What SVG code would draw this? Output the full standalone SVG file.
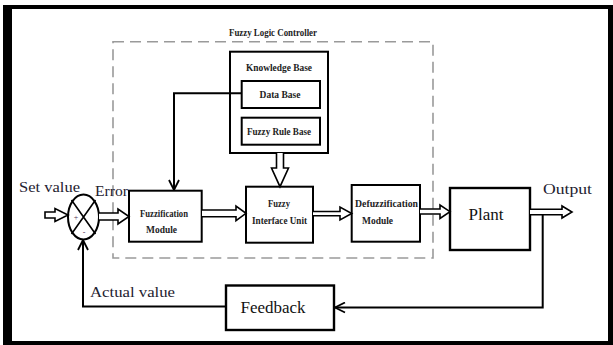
<svg xmlns="http://www.w3.org/2000/svg" width="613" height="345" viewBox="0 0 613 345">
  <defs>
    <style>
      .box { fill: #fff; stroke: #000; stroke-width: 2; }
      .thick { fill: #fff; stroke: #000; stroke-width: 2.4; }
      .hollow { fill: #fff; stroke: #000; stroke-width: 1.6; stroke-linejoin: miter; }
      .wire { fill: none; stroke: #000; stroke-width: 2; }
      .dash { fill: none; stroke: #9a9a9a; stroke-width: 1.6; stroke-dasharray: 11 6; }
      .small { font-family: "Liberation Serif", "Times New Roman", serif; font-size: 9.5px; font-weight: bold; fill: #222; text-anchor: middle; }
      .label { font-family: "Liberation Serif", "Times New Roman", serif; font-size: 15px; fill: #1e2230; }
      .big { font-family: "Liberation Serif", "Times New Roman", serif; font-size: 16px; fill: #111; text-anchor: middle; }
    </style>
    <marker id="chevron" viewBox="0 0 12 12" refX="11" refY="6" markerWidth="12" markerHeight="12" markerUnits="userSpaceOnUse" orient="auto">
      <path d="M1,1 L11,6 L1,11" fill="none" stroke="#000" stroke-width="1.8"/>
    </marker>
  </defs>

  <!-- page frame -->
  <path d="M3,5 H613 V345 H3 Z M12,9 V341 H608 V9 Z" fill="#000" fill-rule="evenodd"/>

  <!-- controller boundary -->
  <g id="flc">
    <rect class="dash" x="113" y="41.7" width="320" height="216.3"/>
    <text class="small" x="273" y="36" textLength="88" lengthAdjust="spacingAndGlyphs">Fuzzy Logic Controller</text>
  </g>

  <g id="knowledge-base">
    <rect class="box" x="230" y="51.7" width="98" height="101.3"/>
    <text class="small" x="279" y="71" textLength="66" lengthAdjust="spacingAndGlyphs">Knowledge Base</text>
  </g>
  <g id="data-base">
    <rect class="box" x="241.7" y="81" width="78.3" height="27"/>
    <text class="small" x="280" y="98" textLength="41" lengthAdjust="spacingAndGlyphs">Data Base</text>
  </g>
  <g id="rule-base">
    <rect class="box" x="241.7" y="117.7" width="78.3" height="27"/>
    <text class="small" x="279" y="134.5" textLength="64" lengthAdjust="spacingAndGlyphs">Fuzzy Rule Base</text>
  </g>

  <g id="summing">
    <ellipse cx="83.5" cy="217" rx="15.5" ry="22.5" fill="#fff" stroke="#000" stroke-width="2"/>
    <path d="M71.5,200 L95.5,234 M95.5,200 L71.5,234" stroke="#000" stroke-width="1.6"/>
    <text x="76" y="220" font-family="Liberation Serif, serif" font-size="8" fill="#553355" text-anchor="middle">+</text>
    <text x="84" y="235" font-family="Liberation Serif, serif" font-size="8" fill="#553355" text-anchor="middle">-</text>
  </g>

  <g id="fuzzification">
    <rect class="box" x="129" y="190.7" width="72.7" height="51"/>
    <text class="small" x="164" y="216.5" textLength="48" lengthAdjust="spacingAndGlyphs">Fuzzification</text>
    <text class="small" x="161.5" y="232.5" textLength="31" lengthAdjust="spacingAndGlyphs">Module</text>
  </g>

  <g id="interface">
    <rect class="box" x="246" y="186.7" width="67" height="56"/>
    <text class="small" x="279" y="207" textLength="22" lengthAdjust="spacingAndGlyphs">Fuzzy</text>
    <text class="small" x="279.5" y="224" textLength="55" lengthAdjust="spacingAndGlyphs">Interface Unit</text>
  </g>

  <g id="defuzzification">
    <rect class="box" x="351.7" y="185" width="68.3" height="56.7"/>
    <text class="small" x="386.5" y="207" textLength="63" lengthAdjust="spacingAndGlyphs">Defuzzification</text>
    <text class="small" x="377.5" y="223.5" textLength="31" lengthAdjust="spacingAndGlyphs">Module</text>
  </g>

  <g id="plant">
    <rect class="thick" x="450" y="188" width="80" height="62"/>
    <text class="big" x="486" y="220" textLength="35" lengthAdjust="spacingAndGlyphs">Plant</text>
  </g>

  <g id="feedback">
    <rect class="thick" x="226" y="285.5" width="108" height="44.5"/>
    <text class="big" x="273" y="313" font-size="15" textLength="65" lengthAdjust="spacingAndGlyphs">Feedback</text>
  </g>

  <!-- signal labels -->
  <g id="labels">
    <text class="label" x="19" y="191.5" textLength="61" lengthAdjust="spacingAndGlyphs">Set value</text>
    <text class="label" x="95" y="196" textLength="33" lengthAdjust="spacingAndGlyphs">Error</text>
    <text class="label" x="543" y="194" textLength="49" lengthAdjust="spacingAndGlyphs">Output</text>
    <text class="label" x="90" y="297" font-size="14.5" textLength="85" lengthAdjust="spacingAndGlyphs">Actual value</text>
  </g>

  <g id="connectors">
    <!-- set value into the summing point -->
    <polygon class="hollow" points="45,212 55,212 55,208.5 68,215 55,221.5 55,218 45,218"/>
    <!-- error into fuzzification -->
    <polyline class="hollow" points="99,213 118,213 118,209 129,216.5 118,224 118,220 99,220"/>
    <!-- fuzzification to interface -->
    <polyline class="hollow" points="202,210 236,210 236,206 246,213.3 236,220.6 236,216.7 202,216.7"/>
    <!-- interface to defuzzification -->
    <polyline class="hollow" points="313,211.5 340,211.5 340,207 351.7,213.5 340,220 340,215.7 313,215.7"/>
    <!-- defuzzification to plant -->
    <polyline class="hollow" points="420,209 440,209 440,205 450,211.7 440,218.4 440,214 420,214"/>
    <!-- plant to output -->
    <polyline class="hollow" points="530,209.3 562,209.3 562,206 572,212 562,218 562,214.7 530,214.7"/>
    <!-- knowledge base to interface -->
    <polyline class="hollow" points="276.5,153 276.5,168 271.5,168 280,186.7 288.5,168 283.5,168 283.5,153"/>
    <!-- data base to fuzzification -->
    <polyline class="wire" points="241.7,93.3 174,93.3 174,190" marker-end="url(#chevron)"/>
    <!-- output back through feedback -->
    <polyline class="wire" points="542.7,214.7 542.7,307.5 335,307.5" marker-end="url(#chevron)"/>
    <!-- feedback into the summing point -->
    <polyline class="wire" points="226,306.5 83,306.5 83,240" marker-end="url(#chevron)"/>
  </g>
</svg>
